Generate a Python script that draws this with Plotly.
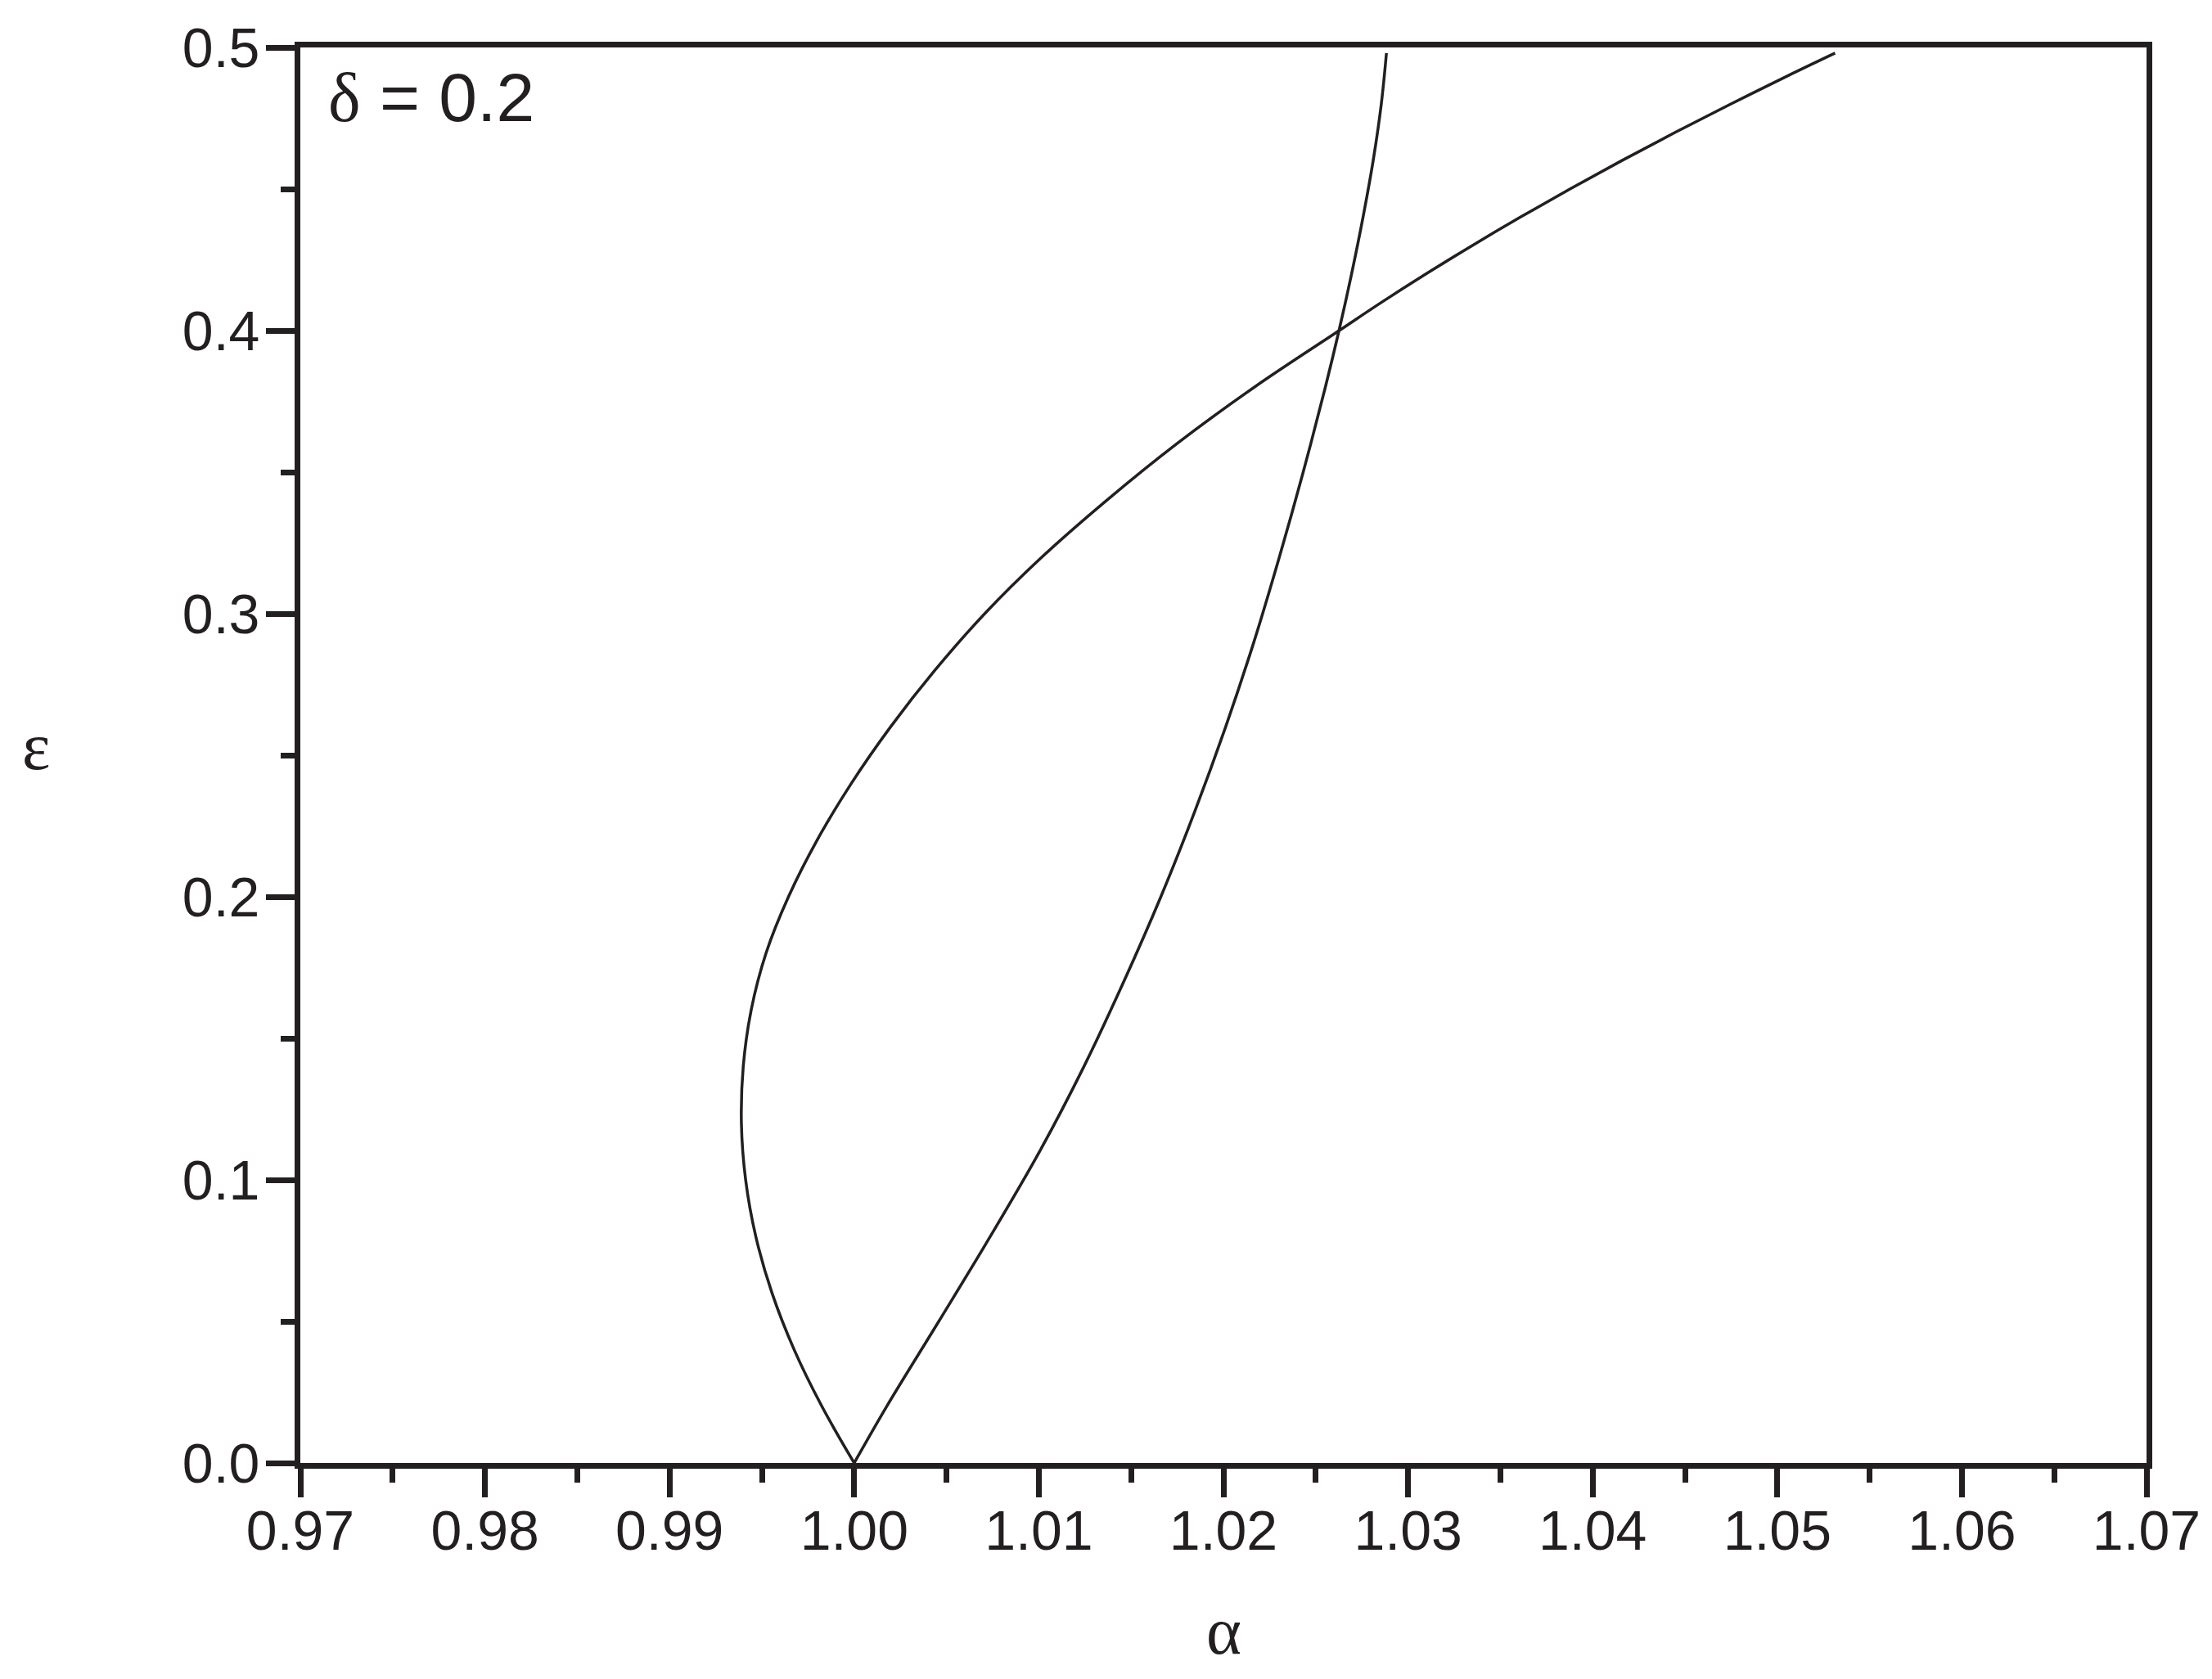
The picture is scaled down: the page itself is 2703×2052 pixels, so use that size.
import plotly.graph_objects as go

# Left boundary curve (arc through min alpha, then gentle branch)
eps_a = [0.00, 0.02, 0.04, 0.06, 0.08, 0.10, 0.12, 0.14, 0.16, 0.18,
         0.20, 0.22, 0.24, 0.26, 0.28, 0.30, 0.32, 0.34, 0.36, 0.38,
         0.40, 0.41, 0.42, 0.43, 0.44, 0.45, 0.46, 0.47, 0.48, 0.49, 0.498]
alpha_a = [1.00000, 0.99825, 0.99675, 0.99555, 0.99467, 0.99412, 0.99389, 0.99399, 0.99442, 0.99522,
           0.99644, 0.99799, 0.99984, 1.00197, 1.00437, 1.00707, 1.01017, 1.01367, 1.01747, 1.02167,
           1.02627, 1.02857, 1.03097, 1.03347, 1.03607, 1.03877, 1.04157, 1.04447, 1.04747, 1.05057, 1.05313]

# Right boundary curve (steep branch)
eps_b = [0.00, 0.02, 0.05, 0.08, 0.11, 0.14, 0.17, 0.20, 0.23, 0.26,
         0.29, 0.32, 0.35, 0.38, 0.40, 0.42, 0.44, 0.46, 0.48, 0.498]
alpha_b = [1.00000, 1.00176, 1.00458, 1.00737, 1.01004, 1.01244, 1.01460, 1.01661, 1.01844, 1.02012,
           1.02165, 1.02303, 1.02432, 1.02552, 1.02626, 1.02694, 1.02756, 1.02811, 1.02855, 1.02883]

x_ticks = [0.97, 0.98, 0.99, 1.00, 1.01, 1.02, 1.03, 1.04, 1.05, 1.06, 1.07]
y_ticks = [0.0, 0.1, 0.2, 0.3, 0.4, 0.5]

INK = "#231f20"
SANS = "Liberation Sans, Arial, sans-serif"
SERIF = "Liberation Serif, Times New Roman, serif"

fig = go.Figure()
for xs, ys in [(alpha_a, eps_a), (alpha_b, eps_b)]:
    fig.add_trace(go.Scatter(x=xs, y=ys, mode="lines",
                             line=dict(color=INK, width=3.5, shape="spline", smoothing=1.0),
                             showlegend=False, hoverinfo="skip"))

axis_common = dict(
    showline=True, linecolor=INK, linewidth=7, mirror=True,
    ticks="outside", ticklen=35, tickwidth=7, tickcolor=INK,
    showgrid=False, zeroline=False,
    tickfont=dict(family=SANS, size=68, color=INK),
)

fig.update_xaxes(range=[0.97, 1.07], tickvals=x_ticks,
                 ticktext=[f"{v:.2f}" for v in x_ticks],
                 ticklabelstandoff=-18,
                 minor=dict(dtick=0.005, tick0=0.97, ticks="outside", ticklen=17,
                            tickwidth=7, tickcolor=INK, showgrid=False),
                 **axis_common)
fig.update_yaxes(range=[0.0, 0.5], tickvals=y_ticks,
                 ticktext=[f"{v:.1f}" for v in y_ticks],
                 ticklabelstandoff=-6,
                 minor=dict(dtick=0.05, tick0=0.0, ticks="outside", ticklen=17,
                            tickwidth=7, tickcolor=INK, showgrid=False),
                 **axis_common)

fig.add_annotation(xref="paper", yref="paper", x=0.5, y=-0.119,
                   text="α", showarrow=False,
                   font=dict(family=SERIF, size=82, color=INK),
                   xanchor="center", yanchor="middle")
fig.add_annotation(xref="paper", yref="paper", x=-0.1432, y=0.506,
                   text="ε", showarrow=False,
                   font=dict(family=SERIF, size=82, color=INK),
                   xanchor="center", yanchor="middle")
fig.add_annotation(xref="paper", yref="paper", x=0.014, y=0.965,
                   text='<span style="font-family:Liberation Serif, Times New Roman, serif">δ</span> = 0.2',
                   showarrow=False,
                   font=dict(family=SANS, size=84, color=INK),
                   xanchor="left", yanchor="middle")

fig.update_layout(
    width=2695, height=2044,
    margin=dict(l=359, r=80, t=47, b=264),
    paper_bgcolor="white", plot_bgcolor="white",
)

fig.write_html("out.html")
